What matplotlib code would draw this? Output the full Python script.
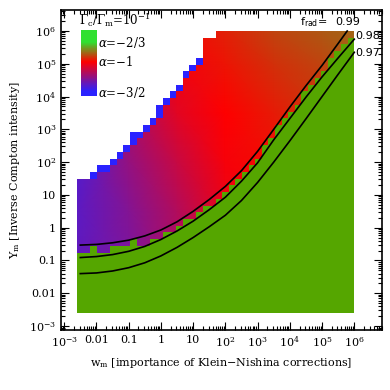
import numpy as np
import matplotlib
matplotlib.use('Agg')
from matplotlib import pyplot as plt
from matplotlib.colors import LinearSegmentedColormap
from matplotlib.patches import Polygon
from matplotlib.ticker import FixedLocator, FuncFormatter, NullFormatter

#_____________________________DATA_______________________________________#
# cell grid in log10(w_m) and log10(Y_m)
cell_lo = -2.6
cell_hi = 6.0
n_cells = 42

# number of filled rows in each column (white above)
top_rows = [20, 20, 21, 22, 22, 23, 24, 25, 27, 27, 28, 29, 31, 32, 33, 34, 36, 37, 38, 41, 41] + [42] * 21
# blue (alpha=-3/2) cells sitting at the top of each column
blue_rows = [0, 0, 1, 1, 1, 1, 1, 1, 2, 1, 1, 1, 2, 1, 1, 1, 1, 1, 1] + [0] * 23
# rows of the green region in each column
green_rows = [9, 9, 10, 9, 9, 10, 10, 10, 11, 10, 10, 11, 11, 12, 12, 13, 14, 14, 15, 16,
              16, 17, 18, 19, 20, 21, 22, 23, 25, 26, 28, 29, 30, 31, 33, 34, 35, 36, 38, 39,
              40, 41]

# spectral slope alpha read at coarse nodes (rows: log Y, cols: log w)
node_logw = [-2.6, -1.0, 0.5, 2.0, 3.5, 5.0, 6.0]
node_logy = [-2.6, -1.0, 0.5, 2.0, 3.5, 5.0, 6.0]
alpha_grid = [
    [-1.36, -1.32, -1.20, -1.10, -1.00, -0.95, -0.90],
    [-1.37, -1.31, -1.20, -1.08, -1.00, -0.95, -0.90],
    [-1.38, -1.29, -1.18, -1.05, -1.00, -0.95, -0.90],
    [-1.40, -1.25, -1.13, -1.02, -0.98, -0.93, -0.90],
    [-1.40, -1.20, -1.07, -1.00, -0.96, -0.92, -0.88],
    [-1.40, -1.15, -1.03, -0.97, -0.93, -0.90, -0.86],
    [-1.40, -1.12, -1.00, -0.95, -0.90, -0.87, -0.85],
]

# f_rad contours (log10 w, log10 Y)
frad_labels = ['0.99', '0.98', '0.97']
line_logw = [-2.5, -2.0, -1.5, -1.0, -0.5, 0.0, 0.5, 1.0, 1.5, 2.0, 2.5, 3.0, 3.5, 4.0, 4.5, 5.0, 5.5]
line99 = [-0.53, -0.51, -0.46, -0.38, -0.25, -0.07, 0.18, 0.50, 0.86, 1.26, 1.74, 2.33, 3.00, 3.68, 4.33, 4.95, 5.62]
line98 = [-0.91, -0.88, -0.82, -0.72, -0.57, -0.36, -0.10, 0.20, 0.55, 0.93, 1.42, 1.98, 2.68, 3.33, 3.98, 4.60, 5.18]
line97 = [-1.40, -1.38, -1.32, -1.22, -1.07, -0.86, -0.60, -0.30, 0.03, 0.38, 0.83, 1.38, 2.00, 2.65, 3.32, 4.00, 4.68]
line_end_logw = [5.78, 6.0, 6.0]
line_end_logy = [6.0, 5.75, 5.35]

# decades shown on both axes
decades = list(range(-3, 7))

#_____________________________PLOT_______________________________________#
plt.rcParams['font.family'] = 'DejaVu Serif'
plt.rcParams['mathtext.fontset'] = 'dejavuserif'

blue = '#2a22ff'
red = '#ff0000'
green = '#30e030'
green_zone = '#55a600'
cmap = LinearSegmentedColormap.from_list('slope', [(0.0, blue), (0.6, red), (1.0, green)])
a_min, a_max = -1.5, -2.0 / 3.0

W, H = 390, 390
fig = plt.figure(figsize=(3.9, 3.9), dpi=100)
ax = fig.add_axes([61 / W, 60 / H, 321 / W, 320 / H])
ax.set_xscale('log')
ax.set_yscale('log')

edges = 10 ** np.linspace(cell_lo, cell_hi, n_cells + 1)
cell = (cell_hi - cell_lo) / n_cells
top_log = cell_lo + cell * np.array(top_rows)

# outline of the filled region, used to clip the colour field
px = np.concatenate([[edges[0]], np.repeat(edges, 2)[1:-1], [edges[-1]]])
py = np.concatenate([[10 ** cell_lo], np.repeat(10 ** top_log, 2), [10 ** cell_lo]])
region = Polygon(np.column_stack([px, py]), closed=True, transform=ax.transData,
                 facecolor='none', edgecolor='none')
ax.add_patch(region)

# smooth colour field
X, Y = np.meshgrid(10 ** np.array(node_logw), 10 ** np.array(node_logy))
mesh = ax.pcolormesh(X, Y, np.array(alpha_grid), shading='gouraud', cmap=cmap,
                     vmin=a_min, vmax=a_max)
mesh.set_clip_path(region)

# blue cells along the edge
ax.stairs(10 ** top_log, edges, baseline=10 ** (top_log - cell * np.array(blue_rows)),
          fill=True, color=blue, lw=0)
# green region
ax.stairs(10 ** (cell_lo + cell * np.array(green_rows)), edges, baseline=10 ** cell_lo,
          fill=True, color=green_zone, lw=0)

for vals, ex, ey in zip([line99, line98, line97], line_end_logw, line_end_logy):
    lx = np.array(line_logw + [ex])
    ly = np.array(vals + [ey])
    ax.plot(10 ** lx, 10 ** ly, color='black', lw=1.2)

ax.set_xlim(10 ** -3.1, 10 ** 6.86)
ax.set_ylim(10 ** -3.12, 10 ** 6.64)


def dec_label(v, pos):
    e = int(round(np.log10(v)))
    names = {-2: '0.01', -1: '0.1', 0: '1', 1: '10'}
    return names.get(e, r'$10^{%d}$' % e)


majors = [10.0 ** e for e in decades]
minors = [k * 10.0 ** e for e in range(-4, 7) for k in range(2, 10)]
for axis in (ax.xaxis, ax.yaxis):
    axis.set_major_locator(FixedLocator(majors))
    axis.set_minor_locator(FixedLocator(minors))
    axis.set_major_formatter(FuncFormatter(dec_label))
    axis.set_minor_formatter(NullFormatter())
ax.tick_params(which='both', direction='in', top=True, right=True, labelsize=8, width=0.8)
ax.tick_params(which='major', length=6)
ax.tick_params(which='minor', length=3)
for s in ax.spines.values():
    s.set_linewidth(1.2)

ax.set_xlabel(r'w$_\mathrm{m}$ [importance of Klein$-$Nishina corrections]', fontsize=8, labelpad=5)
ax.set_ylabel(r'Y$_\mathrm{m}$ [Inverse Compton intensity]', fontsize=8, labelpad=5)

# legend colour bar
lax = fig.add_axes([81 / W, 1 - 96 / H, 16 / W, 66 / H])
lax.imshow(np.linspace(-0.47, -1.57, 100)[:, None], cmap=cmap, vmin=a_min, vmax=a_max,
           aspect='auto', interpolation='nearest')
lax.axis('off')

fig.text(79 / W, 1 - 20 / H, r'$\Gamma_\mathrm{c}/\Gamma_\mathrm{m}$=10$^{-1}$', fontsize=8.5, va='center')
for lab, yp in zip([r'$\alpha$=$-$2/3', r'$\alpha$=$-$1', r'$\alpha$=$-$3/2'], [42, 62, 92]):
    fig.text(98 / W, 1 - yp / H, lab, fontsize=8.5, va='center')

fig.text(300 / W, 1 - 22 / H, r'f$_\mathrm{rad}$=', fontsize=8, va='center', family='DejaVu Sans',
         math_fontfamily='dejavusans')
fig.text(335 / W, 1 - 22 / H, frad_labels[0], fontsize=8, va='center', family='DejaVu Sans')
fig.text(355 / W, 1 - 36 / H, frad_labels[1], fontsize=8, va='center', family='DejaVu Sans')
fig.text(355 / W, 1 - 53 / H, frad_labels[2], fontsize=8, va='center', family='DejaVu Sans')

fig.savefig('out.png', dpi=100)
